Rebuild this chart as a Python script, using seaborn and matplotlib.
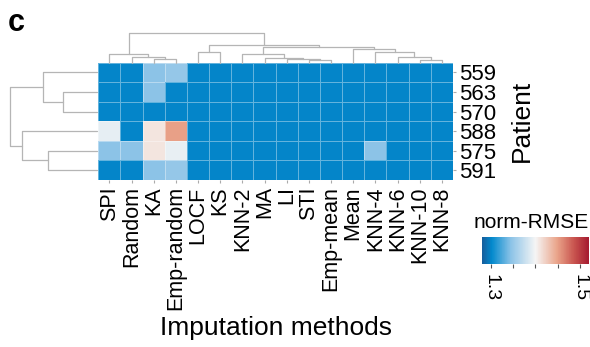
import numpy as np
import pandas as pd
import matplotlib
matplotlib.use("Agg")
import matplotlib.pyplot as plt
import seaborn as sns
from matplotlib.colors import LinearSegmentedColormap

# data
methods = ["SPI", "Random", "KA", "Emp-random", "LOCF", "KS", "KNN-2", "MA",
           "LI", "STI", "Emp-mean", "Mean", "KNN-4", "KNN-6", "KNN-10", "KNN-8"]
patients = ["559", "563", "570", "588", "575", "591"]

p559 = [1.30, 1.30, 1.345, 1.35, 1.30, 1.30, 1.30, 1.30, 1.30, 1.30, 1.30, 1.30, 1.30, 1.30, 1.30, 1.30]
p563 = [1.30, 1.30, 1.345, 1.30, 1.30, 1.30, 1.30, 1.30, 1.30, 1.30, 1.30, 1.30, 1.30, 1.30, 1.30, 1.30]
p570 = [1.30, 1.30, 1.30, 1.30, 1.30, 1.30, 1.30, 1.30, 1.30, 1.30, 1.30, 1.30, 1.30, 1.30, 1.30, 1.30]
p588 = [1.392, 1.30, 1.41, 1.45, 1.30, 1.30, 1.30, 1.30, 1.30, 1.30, 1.30, 1.30, 1.30, 1.30, 1.30, 1.30]
p575 = [1.345, 1.345, 1.41, 1.393, 1.30, 1.30, 1.30, 1.30, 1.30, 1.30, 1.30, 1.30, 1.345, 1.30, 1.30, 1.30]
p591 = [1.30, 1.30, 1.345, 1.35, 1.30, 1.30, 1.30, 1.30, 1.30, 1.30, 1.30, 1.30, 1.30, 1.30, 1.30, 1.30]

# dendrogram merges: (child a, child b, height), ids >= n are earlier merges
col_merges = [(2, 3, 0.116), (1, 16, 0.204), (0, 17, 0.296),
              (9, 10, 0.075), (8, 19, 0.116), (7, 20, 0.15), (6, 21, 0.286),
              (14, 15, 0.092), (13, 23, 0.18), (12, 24, 0.374), (11, 25, 0.456),
              (22, 26, 0.524), (4, 5, 0.374), (28, 27, 0.602), (18, 29, 1.0)]
row_merges = [(1, 2, 0.394), (0, 6, 0.625), (4, 5, 0.565), (3, 8, 0.867), (7, 9, 1.0)]

cbar_ticks = [1.3, 1.35, 1.4, 1.45, 1.5]
cbar_labels = ["1.3", "", "", "", "1.5"]

df = pd.DataFrame([p559, p563, p570, p588, p575, p591], index=patients, columns=methods)

sns.set_theme(style="white")
plt.rcParams["font.family"] = ["Liberation Sans", "DejaVu Sans"]
plt.rcParams["text.color"] = "black"
plt.rcParams["axes.labelcolor"] = "black"
plt.rcParams["xtick.color"] = "black"
plt.rcParams["ytick.color"] = "black"

W, H = 590, 347
fig = plt.figure(figsize=(W / 100, H / 100), dpi=100)


def box(x0, y0, x1, y1):
    return [x0 / W, 1 - y1 / H, (x1 - x0) / W, (y1 - y0) / H]


def dendro_segments(merges, n):
    pos = {i: i + 0.5 for i in range(n)}
    hgt = {i: 0.0 for i in range(n)}
    segs = []
    for k, (a, b, h) in enumerate(merges):
        segs.append(([pos[a], pos[a], pos[b], pos[b]], [hgt[a], h, h, hgt[b]]))
        pos[n + k] = (pos[a] + pos[b]) / 2
        hgt[n + k] = h
    return segs


cmap = LinearSegmentedColormap.from_list("nrmse", [
    (0.0, "#165d9c"), (0.09, "#0289cd"), (0.27, "#8cc3e7"), (0.5, "#f5f5f5"),
    (0.7, "#eaa58b"), (0.86, "#c9554f"), (1.0, "#a51a30")])

ax = fig.add_axes(box(98.3, 62.7, 453, 180))
cax = fig.add_axes(box(482, 237, 589, 264))
sns.heatmap(df, ax=ax, cmap=cmap, vmin=1.28, vmax=1.52, cbar_ax=cax,
            linewidths=0.7, linecolor=(1, 1, 1, 0.38),
            cbar_kws={"orientation": "horizontal", "ticks": cbar_ticks})

ax.set_xticks(np.arange(len(methods)) + 0.5)
ax.set_xticklabels(methods, rotation=90, fontsize=15.5)
ax.yaxis.tick_right()
ax.yaxis.set_label_position("right")
ax.set_yticks(np.arange(len(patients)) + 0.5)
ax.set_yticklabels(patients, rotation=0, fontsize=16)
ax.tick_params(axis="both", length=2.5, width=0.8, color="#aaaaaa", pad=2)
ax.tick_params(axis="x", bottom=True)
ax.tick_params(axis="y", right=True, left=False)
ax.set_xlabel("Imputation methods", fontsize=19, labelpad=4)
ax.set_ylabel("Patient", fontsize=19, labelpad=10)

cbar = ax.collections[0].colorbar
cbar.outline.set_visible(False)
cax.set_xticks(cbar_ticks)
cax.set_xticklabels(cbar_labels, rotation=-90, fontsize=14)
cax.tick_params(axis="x", bottom=True, length=3, width=0.8, color="#555555", pad=4)
fig.text(531 / W, 1 - 228 / H, "norm-RMSE", fontsize=15, ha="center", va="baseline")

# column dendrogram
dax = fig.add_axes(box(98.3, 33.3, 453, 62.7))
for xs, ys in dendro_segments(col_merges, len(methods)):
    dax.plot(xs, ys, color="#b5b5b5", lw=0.9, clip_on=False)
dax.set_xlim(0, len(methods))
dax.set_ylim(0, 1)
dax.axis("off")

# row dendrogram
rax = fig.add_axes(box(10, 62.7, 97, 180))
for ys, xs in dendro_segments(row_merges, len(patients)):
    rax.plot(xs, ys, color="#b5b5b5", lw=0.9, clip_on=False)
rax.set_xlim(1, 0)
rax.set_ylim(len(patients), 0)
rax.axis("off")

fig.text(8 / W, 1 - 31 / H, "c", fontsize=22, fontweight="bold", ha="left", va="baseline")

fig.savefig("out.png", dpi=100)
